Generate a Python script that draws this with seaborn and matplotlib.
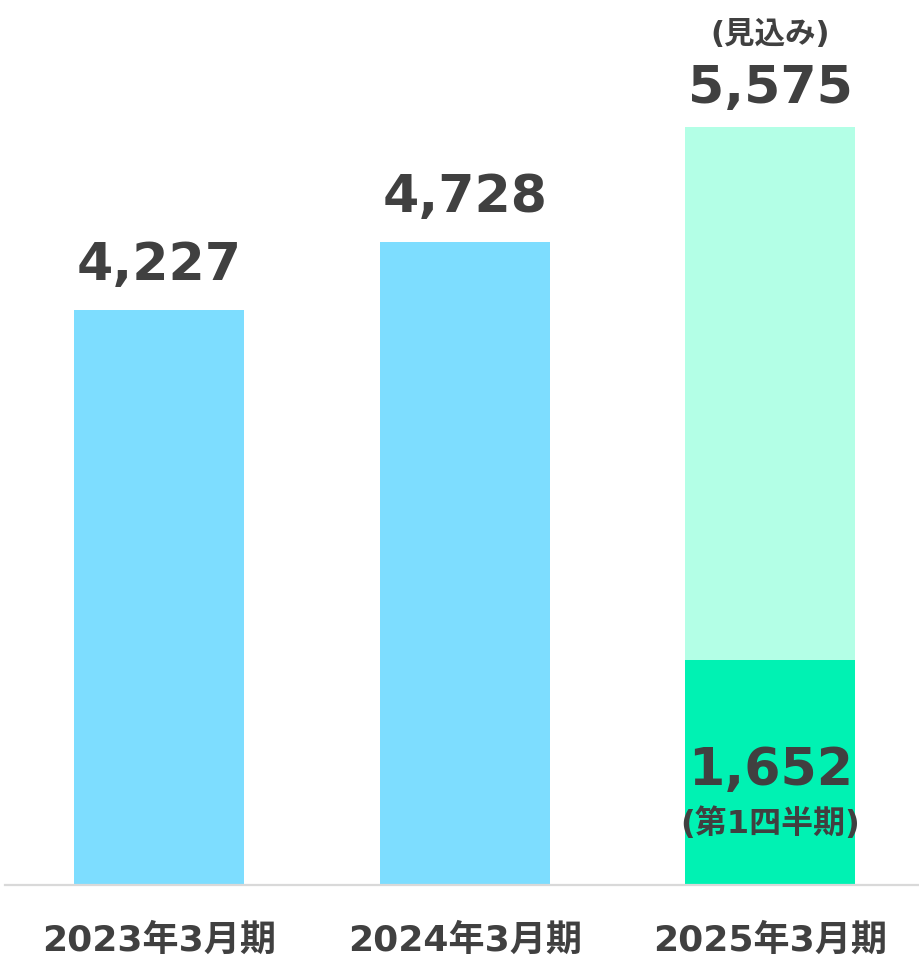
import matplotlib
matplotlib.use("Agg")
import matplotlib.pyplot as plt
import seaborn as sns
import pandas as pd

categories = ["2023年3月期", "2024年3月期", "2025年3月期"]
totals = [4227, 4728, 5575]
q1_values = [0, 0, 1652]
total_labels = ["4,227", "4,728", "5,575"]
q1_label = "1,652"
forecast_note = "(見込み)"
q1_note = "(第1四半期)"

sns.set_theme(style="white")
plt.rcParams['font.family'] = ['DejaVu Sans', 'Noto Sans CJK JP']
plt.rcParams['font.weight'] = 'bold'

text_color = "#404040"
bar_colors = ["#7DDDFF", "#7DDDFF", "#B3FFE6"]
q1_color = "#00F2B3"

fig = plt.figure(figsize=(9.19, 9.61), dpi=100)
ax = fig.add_axes([5/919, 76/961, 914/919, 885/961])

df = pd.DataFrame({"cat": categories, "total": totals, "q1": q1_values})
sns.barplot(data=df, x="cat", y="total", hue="cat", palette=bar_colors,
            order=categories, width=0.556, legend=False, ax=ax, saturation=1,
            linewidth=0, edgecolor="none")
sns.barplot(data=df, x="cat", y="q1", color=q1_color, order=categories,
            width=0.556, ax=ax, saturation=1, linewidth=0, edgecolor="none")

ax.set_xlim(-0.504, 2.486)
ax.set_ylim(0, 885/0.13605)
ax.set_xlabel("")
ax.set_ylabel("")
ax.set_yticks([])
for s in ["top", "left", "right"]:
    ax.spines[s].set_visible(False)
ax.spines["bottom"].set_color("#D9D9D9")
ax.spines["bottom"].set_linewidth(1.6)
ax.tick_params(axis="x", length=0, pad=28, labelsize=26, labelcolor=text_color)
for lab in ax.get_xticklabels():
    lab.set_fontweight("bold")

label_offsets = [21.5, 21.5, 17]
for i, (v, lbl) in enumerate(zip(totals, total_labels)):
    ax.annotate(lbl, xy=(i, v), xytext=(0, label_offsets[i]), textcoords="offset points",
                ha="center", va="baseline", fontsize=37.5, fontweight="bold",
                color=text_color)

ax.annotate(forecast_note, xy=(2, totals[2]), xytext=(0, 60), textcoords="offset points",
            ha="center", va="baseline", fontsize=22, fontweight="bold", color=text_color)

ax.annotate(q1_label, xy=(2, 0), xytext=(0, 72), textcoords="offset points",
            ha="center", va="baseline", fontsize=37.5, fontweight="bold", color=text_color)
ax.annotate(q1_note, xy=(2, 0), xytext=(0, 44), textcoords="offset points",
            ha="center", va="center", fontsize=23, fontweight="bold", color=text_color)

fig.savefig("out.png", dpi=100, facecolor="white")
